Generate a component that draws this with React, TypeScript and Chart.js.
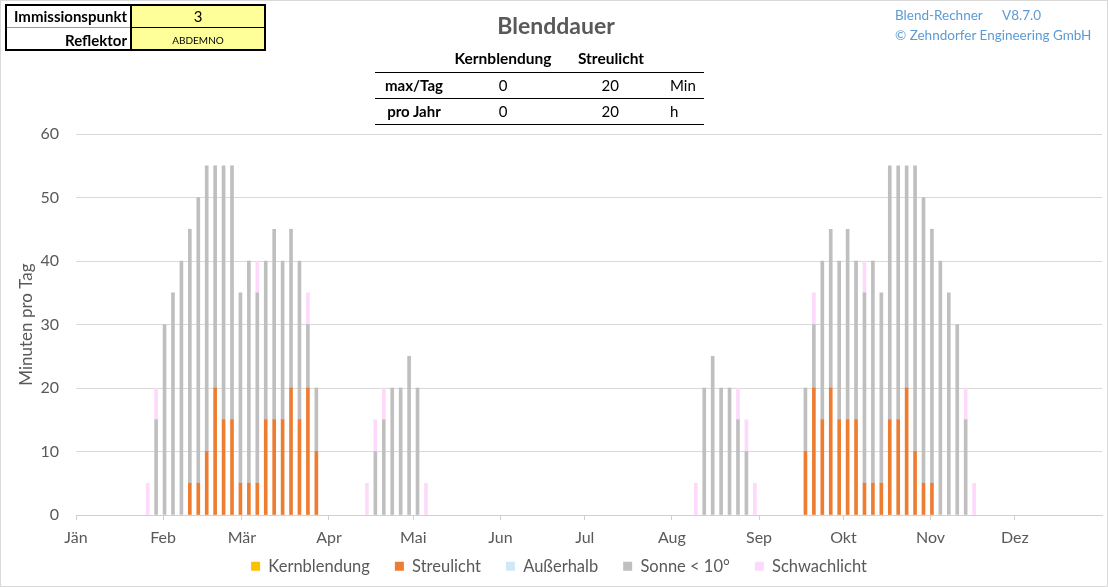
import React, { useEffect, useRef } from "react";
import { Chart, registerables } from "chart.js";

Chart.register(...registerables);

// Month axis: labels and the day-of-year on which each month starts
const MONTHS = ["Jän", "Feb", "Mär", "Apr", "Mai", "Jun", "Jul", "Aug", "Sep", "Okt", "Nov", "Dez"];
const MONTH_START = [0, 31, 59, 90, 120, 151, 181, 212, 243, 273, 304, 334];

// Day of year (1 = 1 January) of each simulated day, one every three days
const DAYS = [
  26, 29, 32, 35, 38, 41, 44, 47, 50, 53, 56, 59, 62, 65, 68, 71, 74, 77, 80, 83, 86,
  104, 107, 110, 113, 116, 119, 122, 125,
  221, 224, 227, 230, 233, 236, 239, 242,
  260, 263, 266, 269, 272, 275, 278, 281, 284, 287, 290, 293, 296, 299, 302, 305, 308, 311, 314, 317, 320,
];

// Minutes per day for each category
const KERNBLENDUNG = [
  0, 0, 0, 0, 0, 0, 0, 0, 0, 0, 0, 0, 0, 0, 0, 0, 0, 0, 0, 0, 0,
  0, 0, 0, 0, 0, 0, 0, 0,
  0, 0, 0, 0, 0, 0, 0, 0,
  0, 0, 0, 0, 0, 0, 0, 0, 0, 0, 0, 0, 0, 0, 0, 0, 0, 0, 0, 0, 0,
];
const STREULICHT = [
  0, 0, 0, 0, 0, 5, 5, 10, 20, 15, 15, 5, 5, 5, 15, 15, 15, 20, 15, 20, 10,
  0, 0, 0, 0, 0, 0, 0, 0,
  0, 0, 0, 0, 0, 0, 0, 0,
  10, 20, 15, 20, 15, 15, 15, 5, 5, 5, 15, 15, 20, 10, 5, 5, 0, 0, 0, 0, 0,
];
const AUSSERHALB = [
  0, 0, 0, 0, 0, 0, 0, 0, 0, 0, 0, 0, 0, 0, 0, 0, 0, 0, 0, 0, 0,
  0, 0, 0, 0, 0, 0, 0, 0,
  0, 0, 0, 0, 0, 0, 0, 0,
  0, 0, 0, 0, 0, 0, 0, 0, 0, 0, 0, 0, 0, 0, 0, 0, 0, 0, 0, 0, 0,
];
const SONNE_UNTER_10 = [
  0, 15, 30, 35, 40, 40, 45, 45, 35, 40, 40, 30, 35, 30, 25, 30, 25, 25, 25, 10, 10,
  0, 10, 15, 20, 20, 25, 20, 0,
  0, 20, 25, 20, 20, 15, 10, 0,
  10, 10, 25, 25, 25, 30, 25, 30, 35, 30, 40, 40, 35, 45, 45, 40, 40, 35, 30, 15, 0,
];
const SCHWACHLICHT = [
  5, 5, 0, 0, 0, 0, 0, 0, 0, 0, 0, 0, 0, 5, 0, 0, 0, 0, 0, 5, 0,
  5, 5, 5, 0, 0, 0, 0, 5,
  5, 0, 0, 0, 0, 5, 5, 5,
  0, 5, 0, 0, 0, 0, 0, 5, 0, 0, 0, 0, 0, 0, 0, 0, 0, 0, 0, 5, 5,
];

const Y_TICKS = [0, 10, 20, 30, 40, 50, 60];

const FONT = "Lato, 'Open Sans', sans-serif";
const GREY_TEXT = "#595959";

type TxtProps = {
  x: number;
  y: number;
  anchor?: "start" | "middle" | "end";
  size?: number;
  bold?: boolean;
  color?: string;
  children: React.ReactNode;
};

function Txt({ x, y, anchor = "start", size = 14, bold = false, color = "#000", children }: TxtProps) {
  const tx = anchor === "middle" ? "-50%" : anchor === "end" ? "-100%" : "0";
  return (
    <div
      style={{
        position: "absolute",
        left: x,
        top: y,
        transform: `translate(${tx}, -50%)`,
        whiteSpace: "nowrap",
        fontFamily: FONT,
        fontSize: size,
        fontWeight: bold ? 700 : 400,
        color,
        lineHeight: 1,
      }}
    >
      {children}
    </div>
  );
}

function Box({ x, y, w, h, bg, border }: { x: number; y: number; w: number; h: number; bg?: string; border?: string }) {
  return (
    <div
      style={{
        position: "absolute",
        left: x,
        top: y,
        width: w,
        height: h,
        background: bg,
        border,
        boxSizing: "border-box",
      }}
    />
  );
}

// Places the legend row just below the month labels
const legendPlacement = {
  id: "legendPlacement",
  beforeDraw(chart: any) {
    const lg = chart.legend;
    if (!lg) return;
    lg.top = 533;
    lg.bottom = chart.height;
    lg.height = lg.bottom - lg.top;
    const w = lg.right - lg.left;
    lg.left = 8;
    lg.right = 8 + w;
  },
};

export default function App() {
  const canvasRef = useRef<HTMLCanvasElement | null>(null);

  useEffect(() => {
    const canvas = canvasRef.current;
    if (!canvas) return;

    // empty days are left out so that no zero-height sliver is painted
    const series = (values: number[]) =>
      DAYS.map((d, i) => ({ x: d - 0.5, y: values[i] === 0 ? null : values[i] }));

    const chart = new Chart(canvas, {
      type: "bar",
      data: {
        datasets: [
          { label: "Kernblendung", data: series(KERNBLENDUNG), backgroundColor: "#FFC000" },
          { label: "Streulicht", data: series(STREULICHT), backgroundColor: "#ED7D31" },
          { label: "Außerhalb", data: series(AUSSERHALB), backgroundColor: "#CFE8F8" },
          { label: "Sonne < 10°", data: series(SONNE_UNTER_10), backgroundColor: "#BFBFBF" },
          { label: "Schwachlicht", data: series(SCHWACHLICHT), backgroundColor: "#FDD9FB" },
        ],
      },
      options: {
        responsive: false,
        animation: false,
        devicePixelRatio: 1,
        layout: { padding: { top: 134, left: 0, right: 6, bottom: 6 } },
        datasets: { bar: { barThickness: 3, borderWidth: 0 } },
        plugins: {
          tooltip: { enabled: false },
          title: { display: false },
          legend: {
            position: "bottom",
            maxHeight: 30,
            labels: {
              boxWidth: 9,
              boxHeight: 9,
              padding: 25,
              color: GREY_TEXT,
              font: { family: FONT, size: 16.5 },
            },
          },
        },
        scales: {
          x: {
            type: "linear",
            stacked: true,
            offset: false,
            min: 0,
            max: 365,
            afterBuildTicks: (scale: any) => {
              scale.ticks = MONTH_START.map((v) => ({ value: v }));
            },
            afterFit: (scale: any) => {
              scale.height = 36;
            },
            ticks: {
              autoSkip: false,
              maxRotation: 0,
              padding: 8,
              color: GREY_TEXT,
              font: { family: FONT, size: 16 },
              callback: (_v: any, i: number) => MONTHS[i],
            },
            grid: { offset: false, drawOnChartArea: false, drawTicks: true, tickLength: 5, color: "#d0d0d0" },
            border: { display: true, color: "#d0d0d0" },
          },
          y: {
            stacked: true,
            min: 0,
            max: 60,
            afterBuildTicks: (scale: any) => {
              scale.ticks = Y_TICKS.map((v) => ({ value: v }));
            },
            afterFit: (scale: any) => {
              scale.width = 76;
            },
            ticks: {
              padding: 17,
              color: GREY_TEXT,
              font: { family: FONT, size: 16 },
            },
            grid: { color: "#d9d9d9", drawTicks: false },
            border: { display: false },
            title: {
              display: true,
              text: "Minuten pro Tag",
              color: GREY_TEXT,
              font: { family: FONT, size: 17 },
              padding: { top: 16, bottom: 0 },
            },
          },
        },
      } as any,
      plugins: [legendPlacement],
    });

    return () => chart.destroy();
  }, []);

  return (
    <div
      style={{
        position: "absolute",
        left: 0,
        top: 0,
        width: 1108,
        height: 587,
        background: "#fff",
        overflow: "hidden",
      }}
    >
      <canvas ref={canvasRef} width={1108} height={587} style={{ position: "absolute", left: 0, top: 0 }} />
      <Box x={0} y={0} w={1108} h={587} border="1px solid #d9d9d9" />

      {/* Immissionspunkt / Reflektor box */}
      <Box x={131} y={4} w={135} h={47} bg="#FFFF99" />
      <div style={{ position: "absolute", left: 5, top: 27, width: 126, height: 1, background: "#9a9a9a" }} />
      <div style={{ position: "absolute", left: 131, top: 27, width: 135, height: 1, background: "#000" }} />
      <div style={{ position: "absolute", left: 130, top: 4, width: 2, height: 47, background: "#000" }} />
      <Box x={5} y={4} w={261} h={47} border="2px solid #000" />
      <Txt x={127} y={16} anchor="end" bold size={15}>Immissionspunkt</Txt>
      <Txt x={127} y={40} anchor="end" bold size={15}>Reflektor</Txt>
      <Txt x={198} y={16} anchor="middle" size={15}>3</Txt>
      <Txt x={198} y={40} anchor="middle" size={10}>ABDEMNO</Txt>

      {/* Title */}
      <Txt x={556} y={25} anchor="middle" bold size={23} color={GREY_TEXT}>Blenddauer</Txt>

      {/* Summary table */}
      <Txt x={503} y={59} anchor="middle" bold size={15.5}>Kernblendung</Txt>
      <Txt x={611} y={59} anchor="middle" bold size={15.5}>Streulicht</Txt>
      <div style={{ position: "absolute", left: 375, top: 72, width: 329, height: 1, background: "#000" }} />
      <Txt x={414} y={85} anchor="middle" bold size={15}>max/Tag</Txt>
      <Txt x={503} y={85} anchor="middle" size={15}>0</Txt>
      <Txt x={619} y={85} anchor="end" size={15}>20</Txt>
      <Txt x={670} y={85} size={15}>Min</Txt>
      <div style={{ position: "absolute", left: 375, top: 98, width: 329, height: 1, background: "#000" }} />
      <Txt x={414} y={111} anchor="middle" bold size={15}>pro Jahr</Txt>
      <Txt x={503} y={111} anchor="middle" size={15}>0</Txt>
      <Txt x={619} y={111} anchor="end" size={15}>20</Txt>
      <Txt x={670} y={111} size={15}>h</Txt>
      <div style={{ position: "absolute", left: 375, top: 124, width: 329, height: 1, background: "#000" }} />

      {/* Version note */}
      <Txt x={895} y={16} size={13.5} color="#5B9BD5">Blend-Rechner</Txt>
      <Txt x={1002} y={16} size={13.5} color="#5B9BD5">V8.7.0</Txt>
      <Txt x={895} y={36} size={13.5} color="#5B9BD5">© Zehndorfer Engineering GmbH</Txt>
    </div>
  );
}
